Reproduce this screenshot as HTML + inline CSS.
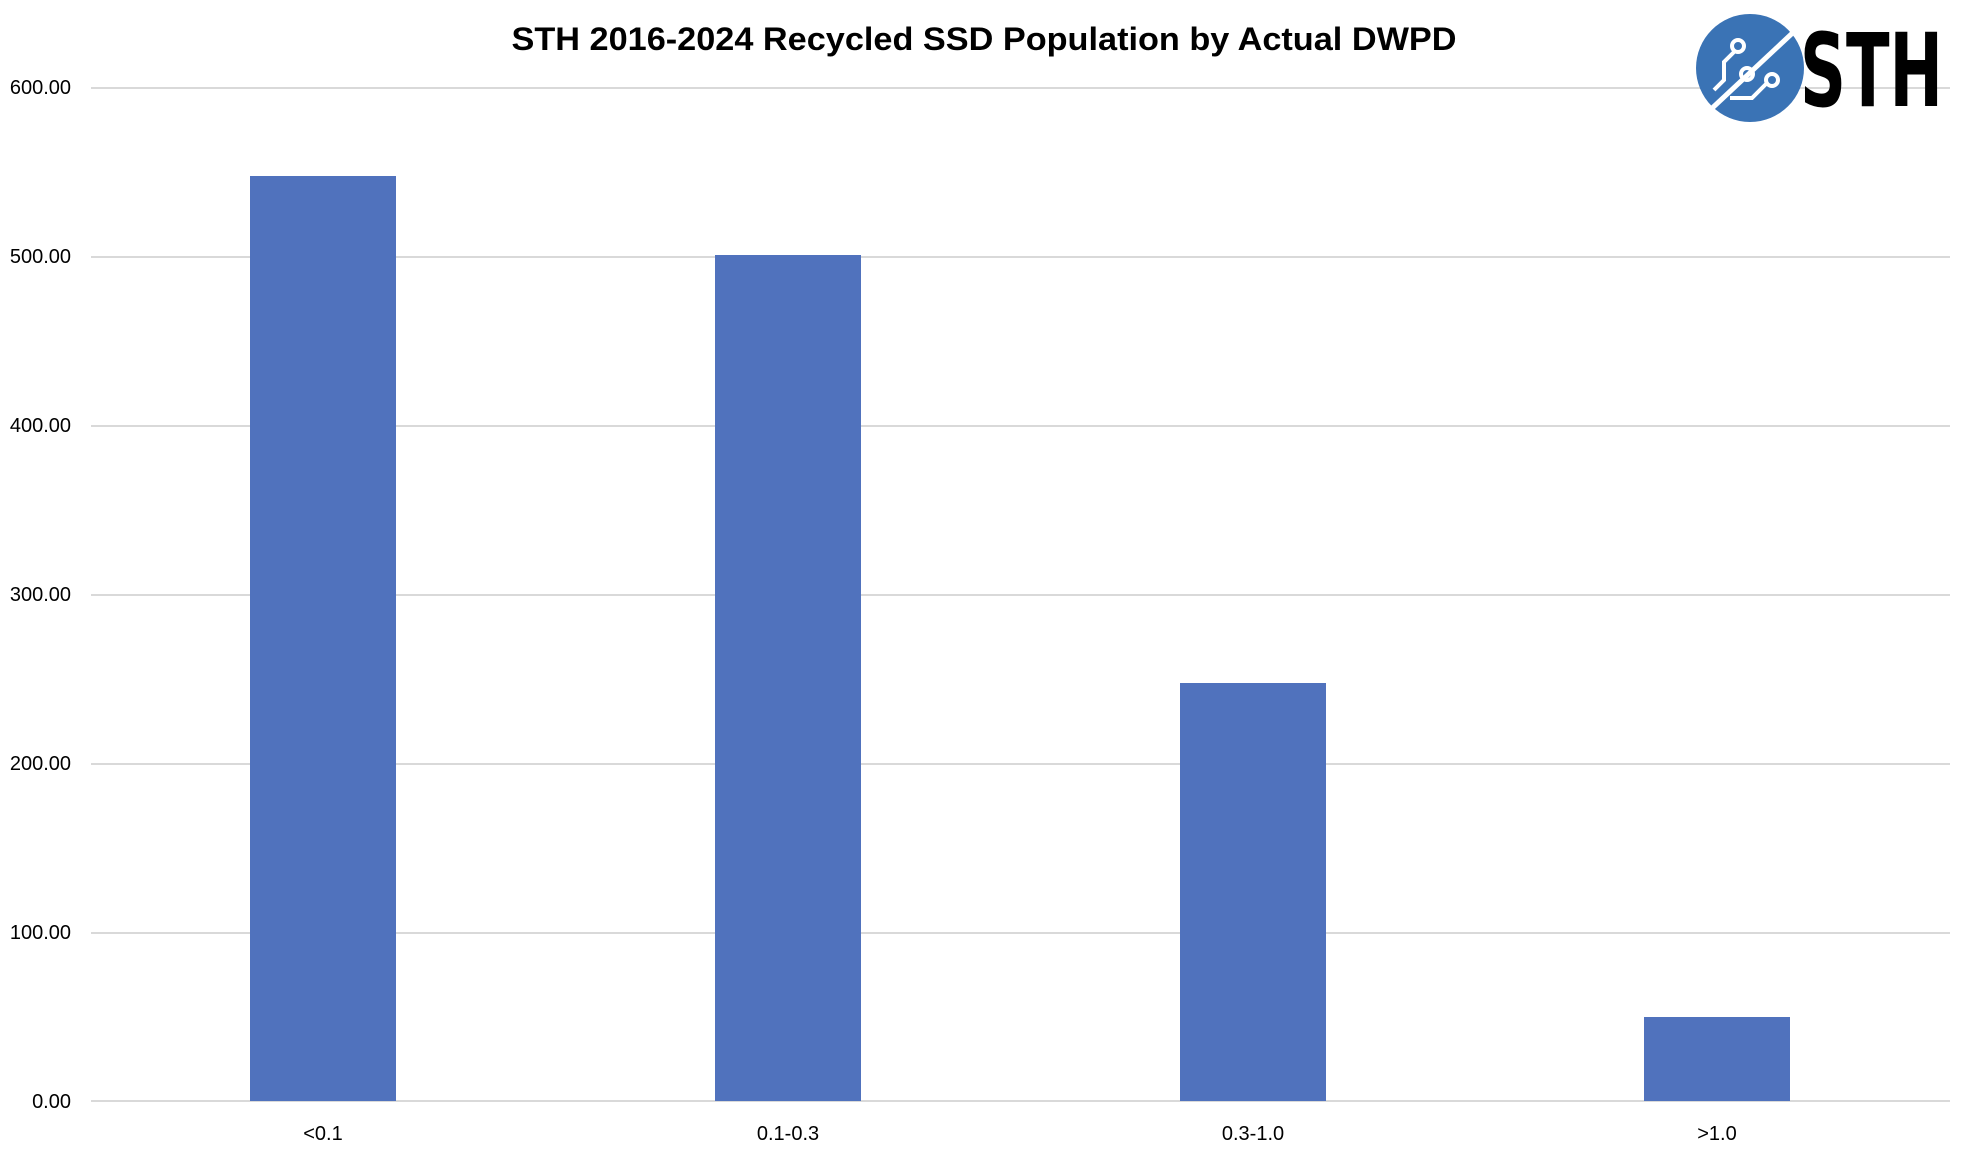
<!DOCTYPE html>
<html><head><meta charset="utf-8"><style>
html,body{margin:0;padding:0;background:#fff;}
svg{display:block;}
</style></head><body>
<svg width="1970" height="1150" viewBox="0 0 1970 1150" xmlns="http://www.w3.org/2000/svg">
<rect width="1970" height="1150" fill="#fff"/>
<g stroke="#d9d9d9" stroke-width="2">
<line x1="91" x2="1950" y1="88" y2="88"/>
<line x1="91" x2="1950" y1="257" y2="257"/>
<line x1="91" x2="1950" y1="426" y2="426"/>
<line x1="91" x2="1950" y1="595" y2="595"/>
<line x1="91" x2="1950" y1="764" y2="764"/>
<line x1="91" x2="1950" y1="933" y2="933"/>
<line x1="91" x2="1950" y1="1101" y2="1101"/>
</g>
<g font-family="Liberation Sans, sans-serif" font-size="20" fill="#000" text-anchor="end">
<text x="71" y="94">600.00</text>
<text x="71" y="263">500.00</text>
<text x="71" y="432">400.00</text>
<text x="71" y="601">300.00</text>
<text x="71" y="770">200.00</text>
<text x="71" y="939">100.00</text>
<text x="71" y="1108">0.00</text>
</g>
<g fill="#5072bd">
<rect x="250" y="176" width="146" height="925"/>
<rect x="715" y="255" width="146" height="846"/>
<rect x="1180" y="683" width="146" height="418"/>
<rect x="1644" y="1017" width="146" height="84"/>
</g>
<g font-family="Liberation Sans, sans-serif" font-size="20" fill="#000" text-anchor="middle">
<text x="323" y="1140">&lt;0.1</text>
<text x="788" y="1140">0.1-0.3</text>
<text x="1253" y="1140">0.3-1.0</text>
<text x="1717" y="1140">&gt;1.0</text>
</g>
<text x="984" y="50" text-anchor="middle" font-family="Liberation Sans, sans-serif" font-weight="bold" font-size="32" textLength="945" lengthAdjust="spacingAndGlyphs">STH 2016-2024 Recycled SSD Population by Actual DWPD</text>
<circle cx="1750" cy="68" r="54" fill="#3a73b5"/>
<line x1="1708" y1="112" x2="1800" y2="26" stroke="#fff" stroke-width="5"/>
<g stroke="#fff" stroke-width="4" fill="none">
<circle cx="1738" cy="46" r="6"/>
<circle cx="1747" cy="74" r="6"/>
<circle cx="1772" cy="80" r="6"/>
<path d="M1734 52 L1724 62 L1724 80 L1714 90"/>
<path d="M1766 84 L1752 98 L1730 98"/>
</g>
<text x="1800" y="106" font-family="DejaVu Sans, sans-serif" font-weight="bold" font-size="102" textLength="143" lengthAdjust="spacingAndGlyphs" fill="#000">STH</text>
</svg>
</body></html>
